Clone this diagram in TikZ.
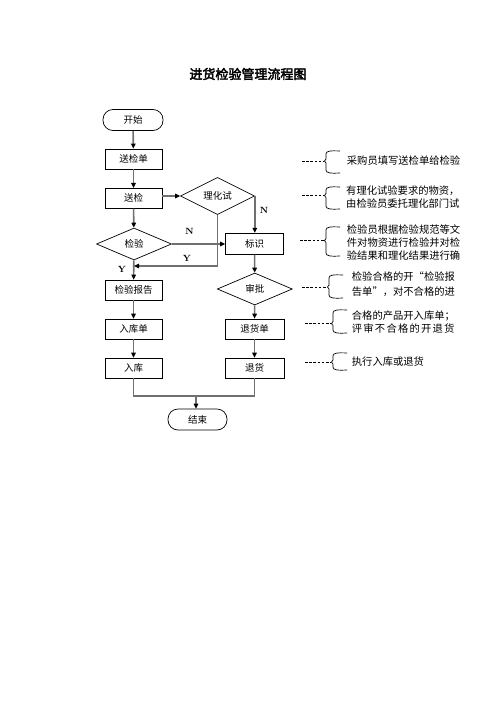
\documentclass[tikz,border=0pt]{standalone}
\usepackage{fontspec}
\newfontfamily\cjk{Noto Sans CJK SC}
\newfontfamily\cjkbold[FakeBold=3]{Noto Sans CJK SC}
\usetikzlibrary{shapes.geometric,arrows.meta}
\begin{document}
\begin{tikzpicture}[x=1pt,y=-1pt,
  box/.style={draw=black,line width=0.7pt,minimum width=57pt,minimum height=20pt,inner sep=0pt,font=\cjk\fontsize{9.5}{11}\selectfont},
  term/.style={box,rounded corners=10pt,minimum width=60pt,minimum height=21pt},
  dia/.style={draw=black,line width=0.7pt,diamond,minimum width=75pt,minimum height=32pt,inner sep=0pt,font=\cjk\fontsize{9.5}{11}\selectfont},
  conn/.style={draw=black!56,line width=1.6pt},
  arr/.style={conn,-{Triangle[length=5pt,width=4.5pt,color=black]}},
  lab/.style={font=\fontsize{9}{10}\selectfont\bfseries,inner sep=0pt},
  note/.style={anchor=west,inner sep=0pt,font=\cjk\fontsize{10.3}{13}\selectfont,align=left},
  dsh/.style={draw=black,line width=0.7pt,dash pattern=on 2.6pt off 1.6pt},
  brk/.style={draw=black,line width=0.7pt}
]
\useasboundingbox (0,0) rectangle (496,702);
\node[font=\cjkbold\fontsize{13}{15}\selectfont,inner sep=0pt] (title) at (248,74) {进货检验管理流程图};
% left column
\node[term] (start) at (133,120) {开始};
\node[box] (d1) at (133.5,159) {送检单};
\node[box] (d2) at (133.5,198.3) {送检};
\node[dia] (c1) at (134,244) {检验};
\node[box] (rep) at (133.5,290) {检验报告};
\node[box] (rk) at (133.5,329) {入库单};
\node[box] (ru) at (133.5,368) {入库};
% right
\node[dia,minimum width=74pt,minimum height=33pt] (r1) at (217.5,196) {理化试};
\node[box,minimum width=58pt,minimum height=21pt] (bs) at (254.5,243.7) {标识};
\node[dia] (sp) at (254.8,289) {审批};
\node[box,minimum width=59pt] (th) at (254.5,329) {退货单};
\node[box,minimum width=59pt] (tu) at (254.5,368) {退货};
\node[term,minimum width=59pt] (end) at (197.5,419.5) {结束};
% coordinates
\coordinate (j1) at (217.5,266);
\coordinate (j2) at (196,396);
% connectors
\draw[arr] (start) -- (d1);
\draw[arr] (d1) -- (d2);
\draw[arr] (d2) -- (c1);
\draw[arr] (d2.east |- r1.west) -- (r1.west);
\draw[arr] (r1.east) -- (r1.east |- bs.north);
\draw[arr] (c1.east) -- (bs.west |- c1.east);
\draw[arr] (c1) -- (rep);
\draw[arr] (r1.south) -- (j1) -- (c1.south |- j1);
\draw[arr] (bs) -- (sp);
\draw[arr] (sp) -- (th);
\draw[arr] (th) -- (tu);
\draw[arr] (rep) -- (rk);
\draw[arr] (rk) -- (ru);
\draw[conn] (ru.south) |- (j2);
\draw[conn] (tu.south) |- (j2);
\draw[arr] (j2) -- (j2 |- end.north);
% labels
\node[lab] (ln1) at (264,210) {N};
\node[lab] (ln2) at (189.5,231) {N};
\node[lab] (ly1) at (187,258) {Y};
\node[lab] (ly2) at (122,269) {Y};
% notes
\newcommand{\mybrk}[4]{% x, top, bottom, mid
  \draw[brk] (#1+14,#2) .. controls (#1+4,#2-0.5) and (#1,#2) .. (#1,#2+3) -- (#1,#4-2) -- (#1-1.5,#4) -- (#1,#4+2) -- (#1,#3-3) .. controls (#1,#3) and (#1+4,#3+0.5) .. (#1+14,#3);}
\coordinate (a1) at (302,161); \coordinate (b1) at (324,161);
\draw[dsh] (a1) -- (b1);
\mybrk{326}{151}{173}{161}
\node[note] (n1) at (346.7,160.5) {采购员填写送检单给检验};
\coordinate (a2) at (302,195.5); \coordinate (b2) at (324,195.5);
\draw[dsh] (a2) -- (b2);
\mybrk{326}{187}{209}{195.5}
\node[note] (n2) at (346,197) {有理化试验要求的物资，\\由检验员委托理化部门试};
\coordinate (a3) at (300,240.5); \coordinate (b3) at (324,240.5);
\draw[dsh] (a3) -- (b3);
\mybrk{326}{227}{256}{240.5}
\node[note] (n3) at (346.7,242.5) {检验员根据检验规范等文\\件对物资进行检验并对检\\验结果和理化结果进行确};
\coordinate (a4) at (302,287); \coordinate (b4) at (327,287);
\draw[dsh] (a4) -- (b4);
\mybrk{329}{275}{298}{287}
\node[note,font=\cjk\fontsize{10.3}{15}\selectfont] (n4) at (351.7,284.2) {检验合格的开“检验报\\告单”，对不合格的进};
\coordinate (a5) at (305,323.5); \coordinate (b5) at (331,323.5);
\draw[dsh] (a5) -- (b5);
\mybrk{333}{310}{333}{323.5}
\node[note,font=\cjk\fontsize{10.3}{12.5}\selectfont] (n5) at (351.7,322) {合格的产品开入库单；\\{\addfontfeature{LetterSpace=12}评审不合格的开退货}};
\coordinate (a6) at (305,362); \coordinate (b6) at (331,362);
\draw[dsh] (a6) -- (b6);
\mybrk{333}{353}{370}{362}
\node[note] (n6) at (351.7,361.5) {执行入库或退货};
\end{tikzpicture}
\end{document}
